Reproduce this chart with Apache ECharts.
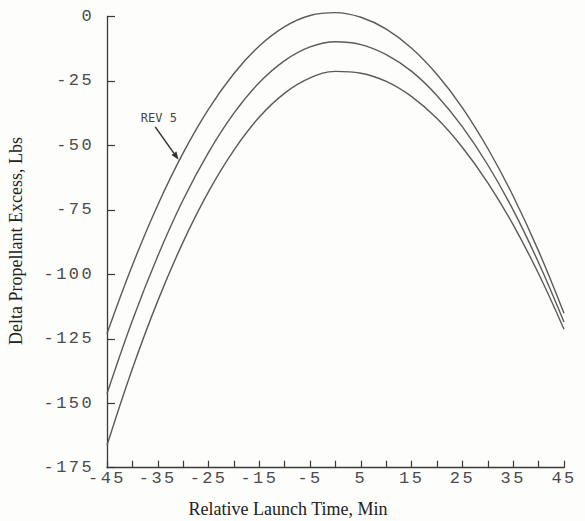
<!DOCTYPE html>
<html>
<head>
<meta charset="utf-8">
<script src="https://cdn.jsdelivr.net/npm/echarts@6/dist/echarts.min.js"></script>
<style>
html,body{margin:0;padding:0;background:#fdfdfb;}
#c{width:585px;height:521px;}
#c svg text[style*="Liberation Mono"], #c svg text[font-family*="Liberation Mono"]{letter-spacing:2.4px;}
</style>
</head>
<body>
<div id="c"></div>
<script>
// Relative launch time (min)
const launchTime = [-45,-40,-35,-30,-25,-20,-15,-10,-5,0,5,10,15,20,25,30,35,40,45];
// Delta propellant excess (lbs)
const rev5Curve   = [-123.0,-96.5,-73.1,-52.9,-35.9,-22.1,-11.4,-3.9,0.4,1.5,-0.3,-4.9,-12.3,-22.5,-35.4,-51.2,-69.7,-91.0,-115.1];
const middleCurve = [-146.3,-117.9,-92.9,-71.1,-52.7,-37.5,-25.6,-17.1,-11.8,-9.8,-10.9,-14.8,-21.3,-30.7,-42.8,-57.6,-75.1,-95.5,-118.5];
const lowerCurve  = [-166.3,-136.6,-110.3,-87.4,-67.9,-51.8,-39.0,-29.7,-23.8,-21.3,-22.0,-25.2,-31.1,-39.6,-50.8,-64.5,-80.8,-99.8,-121.3];
const xLabeled = [-45,-35,-25,-15,-5,5,15,25,35,45];
const xTitle = 'Relative Launch Time, Min';
const yTitle = 'Delta Propellant Excess, Lbs';
const annotationText = 'REV 5';
const annotationFrom = [-34.8, -39.4];
const arrowStart = [-35.5, -42.8];
const arrowTip = [-30.9, -55.6];

const chart = echarts.init(document.getElementById('c'), null, {renderer: 'svg', width: 585, height: 521});
const lineColor = '#5a5a5a';
const axisColor = '#3a3a3a';
const labelFont = {fontFamily: 'Liberation Mono', fontSize: 17, color: '#4a4a4a'};

function mk(name, vals) {
  return {
    name: name, type: 'line', data: launchTime.map((t, i) => [t, vals[i]]),
    smooth: 0.4, showSymbol: false, clip: false, silent: true,
    lineStyle: {color: lineColor, width: 1.4}
  };
}

chart.setOption({
  backgroundColor: '#fdfdfb',
  animation: false,
  grid: {left: 107, right: 21, top: 16.5, bottom: 53.3, containLabel: false},
  xAxis: {
    type: 'value', min: -45, max: 45, interval: 5,
    axisLine: {show: true, onZero: false, lineStyle: {color: axisColor, width: 1.3}},
    axisTick: {show: true, inside: true, length: 7, lineStyle: {color: axisColor, width: 1.2}},
    splitLine: {show: false},
    axisLabel: Object.assign({}, labelFont, {
      margin: 2, showMinLabel: true, showMaxLabel: true,
      formatter: v => xLabeled.indexOf(v) >= 0 ? String(v) : ''
    })
  },
  yAxis: {
    type: 'value', min: -175, max: 0, interval: 25,
    axisLine: {show: true, onZero: false, lineStyle: {color: axisColor, width: 1.3}},
    axisTick: {show: true, inside: true, length: 8, lineStyle: {color: axisColor, width: 1.2}},
    splitLine: {show: false},
    axisLabel: Object.assign({}, labelFont, {margin: 13, showMinLabel: true, showMaxLabel: true})
  },
  series: [mk('REV 5', rev5Curve), mk('Curve 2', middleCurve), mk('Curve 3', lowerCurve)]
});

const p0 = chart.convertToPixel({gridIndex: 0}, arrowStart);
const p1 = chart.convertToPixel({gridIndex: 0}, arrowTip);
const pt = chart.convertToPixel({gridIndex: 0}, annotationFrom);
const ang = Math.atan2(p1[1] - p0[1], p1[0] - p0[0]);
const hl = 8, hw = 3;
const bx = p1[0] - hl * Math.cos(ang), by = p1[1] - hl * Math.sin(ang);
const nx = -Math.sin(ang), ny = Math.cos(ang);

chart.setOption({
  graphic: [
    {type: 'line', shape: {x1: p0[0], y1: p0[1], x2: bx, y2: by}, style: {stroke: '#333', lineWidth: 1.5}, silent: true},
    {type: 'polygon', shape: {points: [[p1[0], p1[1]], [bx + nx * hw, by + ny * hw], [bx - nx * hw, by - ny * hw]]}, style: {fill: '#333'}, silent: true},
    {type: 'text', x: pt[0], y: pt[1], style: {text: annotationText, fontFamily: 'DejaVu Sans Mono', fontSize: 12, fill: '#444', align: 'center', verticalAlign: 'middle'}, silent: true},
    {type: 'text', x: 288, y: 509, style: {text: xTitle, fontFamily: 'Liberation Serif', fontSize: 18, fill: '#222', align: 'center', verticalAlign: 'middle'}, silent: true},
    {type: 'text', x: 16, y: 241, rotation: Math.PI / 2, style: {text: yTitle, fontFamily: 'Liberation Serif', fontSize: 18, fill: '#222', align: 'center', verticalAlign: 'middle'}, silent: true}
  ]
});
</script>
</body>
</html>
